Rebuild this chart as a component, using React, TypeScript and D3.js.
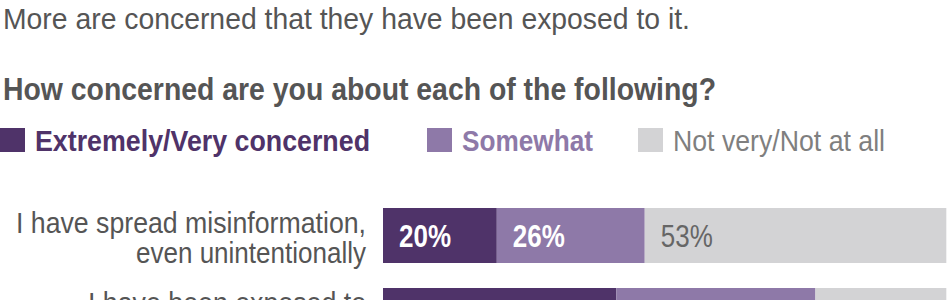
import React from "react";
import * as d3 from "d3";

const title = "More are concerned that they have been exposed to it.";
const subtitle = "How concerned are you about each of the following?";
const seriesNames = ["Extremely/Very concerned", "Somewhat", "Not very/Not at all"];
const categories = ["spread", "exposed"];
const categoryLines = [
  ["I have spread misinformation,", "even unintentionally"],
  ["I have been exposed to", "misinformation"],
];
const extremelyVery = [20, 41];
const somewhat = [26, 35];
const notVery = [53, 23];

const COLORS = ["#4f3369", "#8e79a8", "#d3d3d5"];
const LEGEND_TEXT_COLORS = ["#4f3369", "#8e79a8", "#7f7f7f"];
const VALUE_TEXT_COLORS = ["#ffffff", "#ffffff", "#666666"];
const FONT = "'Liberation Sans Narrow', 'Arial Narrow', 'Liberation Sans', Arial, sans-serif";
const TEXT_GRAY = "#555555";

export default function App() {
  const W = 950, H = 300;
  const x = d3.scaleLinear().domain([0, 100]).range([383, 952]);
  const y = d3.scaleBand<string>().domain(categories).range([208, 343]).paddingInner(0.3125).paddingOuter(0);

  const series = [extremelyVery, somewhat, notVery];
  const table = categories.map((c, i) => ({ cat: c, vals: series.map((s) => s[i]) }));

  const legendItems = [
    { sx: 0, tx: 35, tw: 335 },
    { sx: 427, tx: 462, tw: 131 },
    { sx: 638, tx: 673, tw: 212 },
  ];
  const labelWidths = [
    [350, 230],
    [278, 180],
  ];
  const legendWeights = [700, 700, 400];
  const valueWeights = [700, 700, 400];

  return (
    <svg
      width={W}
      height={H}
      style={{ position: "fixed", left: 0, top: 0, background: "#ffffff" }}
      fontFamily={FONT}
    >
      <rect x={0} y={0} width={W} height={H} fill="#ffffff" />
      <text x={3} y={29} fontSize={30} fill={TEXT_GRAY} textLength={687} lengthAdjust="spacingAndGlyphs">
        {title}
      </text>
      <text x={3} y={100} fontSize={31} fontWeight={700} fill={TEXT_GRAY} textLength={713} lengthAdjust="spacingAndGlyphs">
        {subtitle}
      </text>
      {seriesNames.map((name, i) => (
        <g key={name}>
          <rect x={legendItems[i].sx} y={128} width={25} height={24} fill={COLORS[i]} />
          <text
            x={legendItems[i].tx}
            y={151}
            fontSize={30}
            fontWeight={legendWeights[i]}
            fill={LEGEND_TEXT_COLORS[i]}
            textLength={legendItems[i].tw}
            lengthAdjust="spacingAndGlyphs"
          >
            {name}
          </text>
        </g>
      ))}
      {table.map((row, ri) => {
        const y0 = y(row.cat) as number;
        const bw = y.bandwidth();
        const cy = y0 + bw / 2;
        let acc = 0;
        return (
          <g key={row.cat}>
            {categoryLines[ri].map((line, li) => (
              <text
                key={li}
                x={366}
                y={cy - 2.5 + li * 30}
                fontSize={29}
                fill={TEXT_GRAY}
                textAnchor="end"
                textLength={labelWidths[ri][li]}
                lengthAdjust="spacingAndGlyphs"
              >
                {line}
              </text>
            ))}
            {row.vals.map((v, si) => {
              const x0 = x(acc);
              acc += v;
              const x1 = x(acc);
              return (
                <g key={si}>
                  <rect x={x0} y={y0} width={x1 - x0} height={bw} fill={COLORS[si]} />
                  <text
                    x={x0 + 16}
                    y={cy + 11.5}
                    fontSize={31}
                    fontWeight={valueWeights[si]}
                    fill={VALUE_TEXT_COLORS[si]}
                    textLength={52}
                    lengthAdjust="spacingAndGlyphs"
                  >
                    {`${v}%`}
                  </text>
                </g>
              );
            })}
          </g>
        );
      })}
    </svg>
  );
}
